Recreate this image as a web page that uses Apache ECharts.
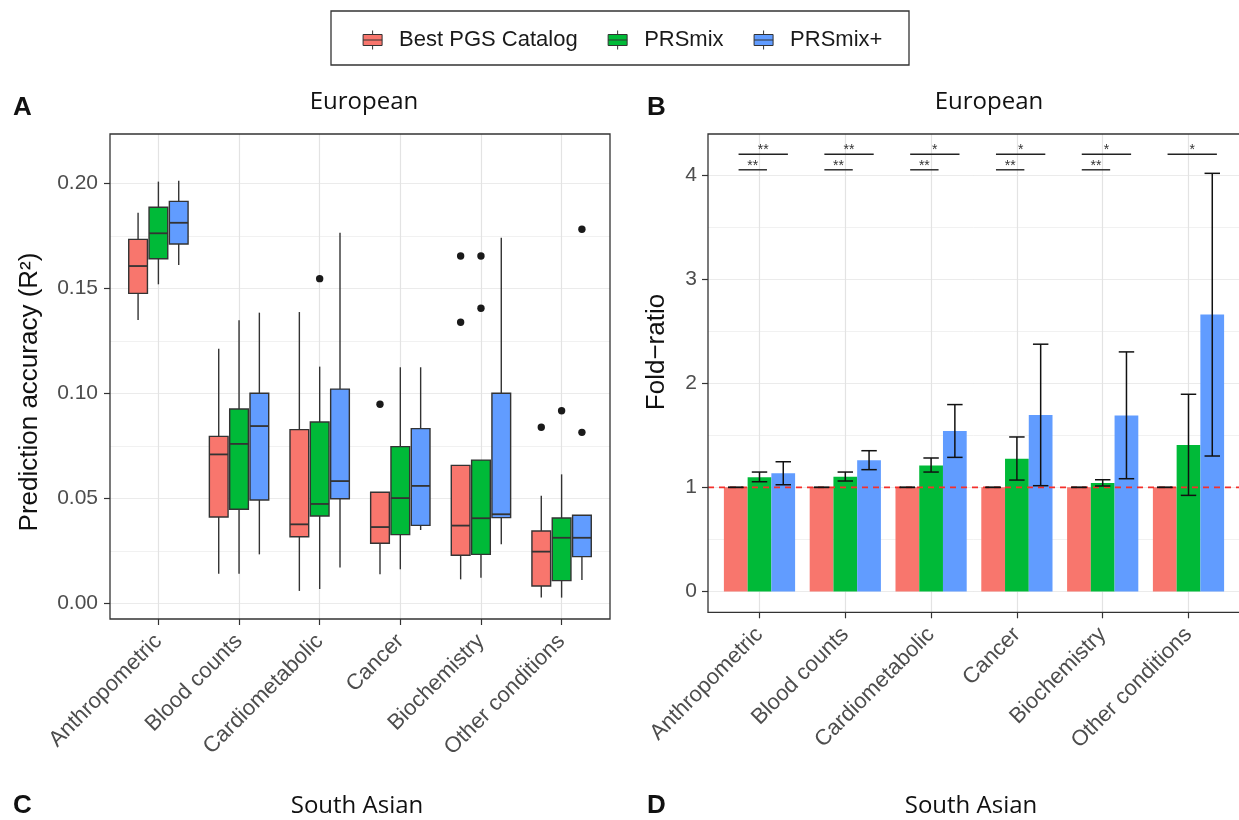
<!DOCTYPE html>
<html>
<head>
<meta charset="utf-8">
<script src="https://cdn.jsdelivr.net/npm/echarts@6/dist/echarts.min.js"></script>
<style>
  html, body { margin: 0; padding: 0; background: #fff; }
  #main { width: 1239px; height: 820px; }
</style>
</head>
<body>
<div id="main"></div>
<script>
// ---- data ----
const categories = ['Anthropometric', 'Blood counts', 'Cardiometabolic', 'Cancer', 'Biochemistry', 'Other conditions'];
const methods = ['Best PGS Catalog', 'PRSmix', 'PRSmix+'];

// panel A: [min, Q1, median, Q3, max] per category
const boxBest = [
  [0.1349, 0.1476, 0.1606, 0.1733, 0.1860],
  [0.0141, 0.0411, 0.0709, 0.0795, 0.1212],
  [0.0059, 0.0317, 0.0376, 0.0827, 0.1387],
  [0.0138, 0.0286, 0.0363, 0.0529, 0.0529],
  [0.0114, 0.0229, 0.0370, 0.0657, 0.0657],
  [0.0027, 0.0082, 0.0246, 0.0344, 0.0512]
];
const boxMix = [
  [0.1519, 0.1641, 0.1762, 0.1886, 0.2008],
  [0.0141, 0.0448, 0.0759, 0.0925, 0.1348],
  [0.0068, 0.0416, 0.0473, 0.0863, 0.1127],
  [0.0162, 0.0327, 0.0501, 0.0746, 0.1124],
  [0.0122, 0.0233, 0.0405, 0.0682, 0.0682],
  [0.0027, 0.0108, 0.0312, 0.0406, 0.0614]
];
const boxPlus = [
  [0.1611, 0.1711, 0.1812, 0.1914, 0.2012],
  [0.0233, 0.0492, 0.0844, 0.1000, 0.1384],
  [0.0170, 0.0498, 0.0582, 0.1020, 0.1765],
  [0.0349, 0.0371, 0.0559, 0.0832, 0.1124],
  [0.0281, 0.0408, 0.0424, 0.1000, 0.1741],
  [0.0111, 0.0222, 0.0312, 0.0419, 0.0419]
];
// outliers: [category index, value]
const outBest = [[3, 0.0948], [4, 0.1654], [4, 0.1338], [5, 0.0838]];
const outMix = [[2, 0.1546], [4, 0.1654], [4, 0.1405], [5, 0.0917]];
const outPlus = [[5, 0.1781], [5, 0.0814]];

// panel B: fold-ratio with error bars
const foldBest = [1, 1, 1, 1, 1, 1];
const lowBest = [1, 1, 1, 1, 1, 1];
const highBest = [1, 1, 1, 1, 1, 1];
const foldMix = [1.096, 1.102, 1.211, 1.275, 1.041, 1.407];
const lowMix = [1.054, 1.061, 1.147, 1.070, 1.013, 0.923];
const highMix = [1.147, 1.147, 1.282, 1.484, 1.073, 1.894];
const foldPlus = [1.135, 1.260, 1.541, 1.695, 1.689, 2.660];
const lowPlus = [1.025, 1.170, 1.288, 1.016, 1.083, 1.301];
const highPlus = [1.246, 1.352, 1.795, 2.375, 2.301, 4.016];
const refRatio = 1;

// significance brackets
const sigTop = ['**', '**', '*', '*', '*', '*'];
const sigLow = ['**', '**', '**', '**', '**', ''];
const sigTopY = 4.2;
const sigLowY = 4.05;

const ticksA = [0, 0.05, 0.10, 0.15, 0.20];
const ticksB = [0, 1, 2, 3, 4];

// ---- style ----
const COLORS = ['#F8766D', '#00BA38', '#619CFF'];
const EDGE = '#333333';
const GRID_MAJOR = '#e3e3e3';
const GRID_MINOR = '#eeeeee';
const TXT = '#4d4d4d';
const SANS = '"Liberation Sans", Arial, sans-serif';
const TITLE_FONT = '"Open Sans", "Noto Sans", sans-serif';

const BOX_STEP = 0.252, BOX_W = 0.232;   // fractions of category spacing
const BAR_STEP = 0.277, CAP_W = 0.18;

const chart = echarts.init(document.getElementById('main'));

function boxItem(k) {
  return function (params, api) {
    const i = api.value(0);
    const band = api.size([1, 0])[0];
    const cx = api.coord([i, 0])[0] + (k - 1) * BOX_STEP * band;
    const hw = BOX_W * band / 2;
    const p = [1, 2, 3, 4, 5].map(d => api.coord([i, api.value(d)])[1]);
    const ln = { stroke: EDGE, lineWidth: 1.4 };
    return {
      type: 'group',
      children: [
        { type: 'line', shape: { x1: cx, y1: p[4], x2: cx, y2: p[3] }, style: ln },
        { type: 'line', shape: { x1: cx, y1: p[1], x2: cx, y2: p[0] }, style: ln },
        { type: 'rect', shape: { x: cx - hw, y: p[3], width: 2 * hw, height: p[1] - p[3] },
          style: { fill: COLORS[k], stroke: EDGE, lineWidth: 1.4 } },
        { type: 'line', shape: { x1: cx - hw, y1: p[2], x2: cx + hw, y2: p[2] },
          style: { stroke: EDGE, lineWidth: 1.8 } }
      ]
    };
  };
}

function outlierItem(k) {
  return function (params, api) {
    const band = api.size([1, 0])[0];
    const pt = api.coord([api.value(0), api.value(1)]);
    return {
      type: 'circle',
      shape: { cx: pt[0] + (k - 1) * BOX_STEP * band, cy: pt[1], r: 3.7 },
      style: { fill: '#1a1a1a' }
    };
  };
}

function errItem(k) {
  return function (params, api) {
    const i = api.value(0);
    const band = api.size([1, 0])[0];
    const cx = api.coord([i, 0])[0] + (k - 1) * BAR_STEP * band;
    const hw = CAP_W * band / 2;
    const lo = api.coord([i, api.value(1)])[1];
    const hi = api.coord([i, api.value(2)])[1];
    const ln = { stroke: '#111111', lineWidth: 1.5 };
    return {
      type: 'group',
      children: [
        { type: 'line', shape: { x1: cx, y1: lo, x2: cx, y2: hi }, style: ln },
        { type: 'line', shape: { x1: cx - hw, y1: lo, x2: cx + hw, y2: lo }, style: ln },
        { type: 'line', shape: { x1: cx - hw, y1: hi, x2: cx + hw, y2: hi }, style: ln }
      ]
    };
  };
}

function sigItem(labels, from, to) {
  return function (params, api) {
    const lab = labels[params.dataIndex];
    if (!lab) return { type: 'group', children: [] };
    const i = api.value(0);
    const band = api.size([1, 0])[0];
    const c = api.coord([i, api.value(1)]);
    const x1 = c[0] + from * band, x2 = c[0] + to * band;
    return {
      type: 'group',
      children: [
        { type: 'line', shape: { x1: x1, y1: c[1], x2: x2, y2: c[1] },
          style: { stroke: '#222222', lineWidth: 1.4 } },
        { type: 'text', style: { text: lab, x: (x1 + x2) / 2, y: c[1] + 3, align: 'center',
          verticalAlign: 'bottom', fontSize: 14, fontFamily: SANS, fill: '#333333' } }
      ]
    };
  };
}

const boxSets = [boxBest, boxMix, boxPlus];
const outSets = [outBest, outMix, outPlus];
const foldSets = [foldBest, foldMix, foldPlus];
const lowSets = [lowBest, lowMix, lowPlus];
const highSets = [highBest, highMix, highPlus];

const series = [];
boxSets.forEach((set, k) => {
  series.push({
    name: methods[k], type: 'custom', xAxisIndex: 1, yAxisIndex: 2,
    itemStyle: { color: COLORS[k] },
    renderItem: boxItem(k),
    encode: { x: 0, y: [1, 2, 3, 4, 5] },
    data: set.map((s, i) => [i].concat(s)),
    z: 3
  });
});
outSets.forEach((set, k) => {
  series.push({
    type: 'custom', xAxisIndex: 1, yAxisIndex: 2,
    renderItem: outlierItem(k),
    encode: { x: 0, y: 1 },
    data: set,
    z: 3
  });
});
foldSets.forEach((set, k) => {
  series.push({
    name: methods[k], type: 'bar', xAxisIndex: 3, yAxisIndex: 5,
    data: set, clip: false,
    barGap: '0%', barCategoryGap: '17%',
    itemStyle: { color: COLORS[k] },
    emphasis: { disabled: true },
    z: 2
  });
});
series.push({
  type: 'custom', xAxisIndex: 2, yAxisIndex: 3, z: 4,
  renderItem: function (params, api) {
    const cs = params.coordSys;
    const y = api.coord([0, api.value(1)])[1];
    return {
      type: 'line', shape: { x1: cs.x, y1: y, x2: cs.x + cs.width, y2: y },
      style: { stroke: '#f4302c', lineWidth: 1.6, lineDash: [6, 5] }
    };
  },
  data: [[0, refRatio]]
});
foldSets.forEach((set, k) => {
  series.push({
    type: 'custom', xAxisIndex: 3, yAxisIndex: 5, z: 5,
    renderItem: errItem(k),
    encode: { x: 0, y: [1, 2] },
    data: set.map((v, i) => [i, lowSets[k][i], highSets[k][i]])
  });
});
series.push({
  type: 'custom', xAxisIndex: 3, yAxisIndex: 5, z: 5,
  renderItem: sigItem(sigTop, -0.244, 0.331),
  data: sigTop.map((s, i) => [i, sigTopY])
});
series.push({
  type: 'custom', xAxisIndex: 3, yAxisIndex: 5, z: 5,
  renderItem: sigItem(sigLow, -0.244, 0.087),
  data: sigLow.map((s, i) => [i, sigLowY])
});

const catAxis = (gridIndex) => ({
  type: 'category', gridIndex: gridIndex, data: categories, boundaryGap: false,
  axisLine: { show: false, onZero: false },
  axisTick: { show: true, length: 6, lineStyle: { color: EDGE, width: 1.2 } },
  axisLabel: { interval: 0, rotate: 45, margin: 19, color: TXT, fontSize: 22, fontFamily: SANS },
  splitLine: { show: true, lineStyle: { color: GRID_MAJOR, width: 1.2 } }
});
const hiddenX = (gridIndex) => ({ type: 'value', gridIndex: gridIndex, min: 0, max: 1, show: false });

const option = {
  animation: false,
  backgroundColor: '#ffffff',
  grid: [
    { left: 110, top: 183.3, width: 500, height: 420 },
    { left: 158.4, top: 134, width: 403.2, height: 485 },
    { left: 708, top: 175, width: 532, height: 416.5 },
    { left: 759.5, top: 134, width: 429, height: 478.3 }
  ],
  xAxis: [hiddenX(0), catAxis(1), hiddenX(2), catAxis(3)],
  yAxis: [
    { type: 'value', gridIndex: 0, min: ticksA[0], max: ticksA[ticksA.length - 1], interval: 0.05,
      axisLine: { show: false },
      axisTick: { show: true, length: 6, lineStyle: { color: EDGE, width: 1.2 } },
      axisLabel: { margin: 12, color: TXT, fontSize: 21, fontFamily: SANS, formatter: v => v.toFixed(2) },
      splitLine: { show: true, lineStyle: { color: GRID_MAJOR, width: 1.2 } } },
    { type: 'value', gridIndex: 0, min: ticksA[0], max: ticksA[ticksA.length - 1], interval: 0.025,
      axisLine: { show: false }, axisTick: { show: false }, axisLabel: { show: false },
      splitLine: { show: true, lineStyle: { color: GRID_MINOR, width: 0.8 } } },
    { type: 'value', gridIndex: 1, min: -0.00748, max: 0.22348, show: false },
    { type: 'value', gridIndex: 2, min: ticksB[0], max: ticksB[ticksB.length - 1], interval: 1,
      axisLine: { show: false },
      axisTick: { show: true, length: 6, lineStyle: { color: EDGE, width: 1.2 } },
      axisLabel: { margin: 11, color: TXT, fontSize: 21, fontFamily: SANS },
      splitLine: { show: true, lineStyle: { color: GRID_MAJOR, width: 1.2 } } },
    { type: 'value', gridIndex: 2, min: ticksB[0], max: ticksB[ticksB.length - 1], interval: 0.5,
      axisLine: { show: false }, axisTick: { show: false }, axisLabel: { show: false },
      splitLine: { show: true, lineStyle: { color: GRID_MINOR, width: 0.8 } } },
    { type: 'value', gridIndex: 3, min: -0.2, max: 4.3938, show: false }
  ],
  legend: {
    data: methods, left: 362.6, top: 29, orient: 'horizontal',
    padding: 0, itemGap: 30, itemWidth: 19, itemHeight: 19,
    selectedMode: false,
    icon: 'path://M9.5,0L9.5,4M0,4L19,4L19,15L0,15ZM0,9.5L19,9.5M9.5,15L9.5,19',
    itemStyle: { borderColor: EDGE, borderWidth: 1 },
    textStyle: { color: '#1a1a1a', fontSize: 22, fontFamily: SANS, padding: [0, 0, 0, 12] }
  },
  graphic: [
    { type: 'rect', shape: { x: 331, y: 11, width: 578, height: 54 },
      style: { fill: null, stroke: EDGE, lineWidth: 1.3 }, z: 1 },
    { type: 'rect', shape: { x: 110, y: 134, width: 500, height: 485 },
      style: { fill: null, stroke: EDGE, lineWidth: 1.3 }, z: 10 },
    { type: 'rect', shape: { x: 708, y: 134, width: 532, height: 478.3 },
      style: { fill: null, stroke: EDGE, lineWidth: 1.3 }, z: 10 },
    { type: 'text', x: 13, y: 108, style: { text: 'A', font: 'bold 26px ' + SANS, fill: '#111', verticalAlign: 'middle' } },
    { type: 'text', x: 647, y: 108, style: { text: 'B', font: 'bold 26px ' + SANS, fill: '#111', verticalAlign: 'middle' } },
    { type: 'text', x: 13, y: 806, style: { text: 'C', font: 'bold 26px ' + SANS, fill: '#111', verticalAlign: 'middle' } },
    { type: 'text', x: 647, y: 806, style: { text: 'D', font: 'bold 26px ' + SANS, fill: '#111', verticalAlign: 'middle' } },
    { type: 'text', x: 364, y: 102, style: { text: 'European', font: '24px ' + TITLE_FONT, fill: '#111', align: 'center', verticalAlign: 'middle' } },
    { type: 'text', x: 989, y: 102, style: { text: 'European', font: '24px ' + TITLE_FONT, fill: '#111', align: 'center', verticalAlign: 'middle' } },
    { type: 'text', x: 357, y: 806, style: { text: 'South Asian', font: '24px ' + TITLE_FONT, fill: '#111', align: 'center', verticalAlign: 'middle' } },
    { type: 'text', x: 971, y: 806, style: { text: 'South Asian', font: '24px ' + TITLE_FONT, fill: '#111', align: 'center', verticalAlign: 'middle' } },
    { type: 'text', x: 30, y: 392, rotation: Math.PI / 2,
      style: { text: 'Prediction accuracy (R²)', font: '26px ' + SANS, fill: '#111', align: 'center', verticalAlign: 'middle' } },
    { type: 'text', x: 657, y: 352, rotation: Math.PI / 2,
      style: { text: 'Fold\u2212ratio', font: '26px ' + SANS, fill: '#111', align: 'center', verticalAlign: 'middle' } }
  ],
  series: series
};

chart.setOption(option);
</script>
</body>
</html>
